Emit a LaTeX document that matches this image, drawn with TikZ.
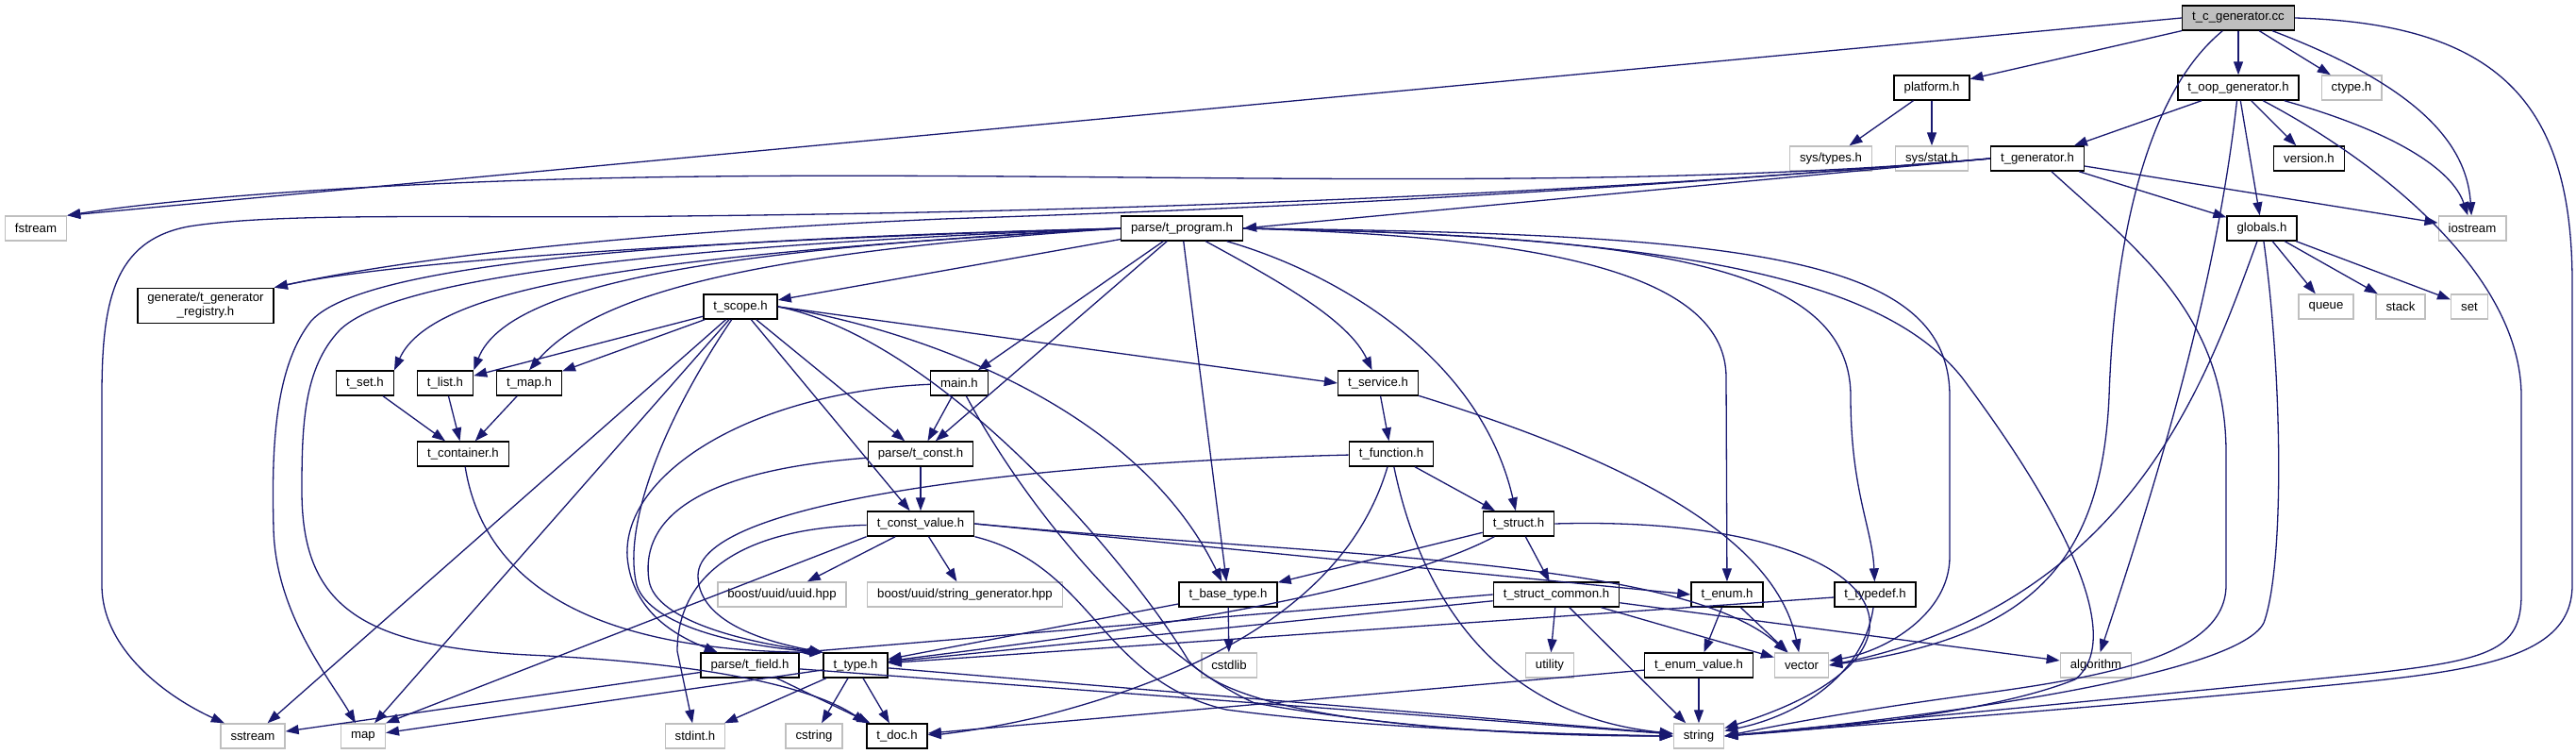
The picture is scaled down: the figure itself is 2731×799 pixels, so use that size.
\documentclass[tikz,border=0pt]{standalone}
\usepackage{fontspec}
\setmainfont{Liberation Sans}
\usetikzlibrary{arrows.meta,positioning}
\definecolor{edgeblue}{RGB}{25,25,112}
\definecolor{sysgray}{RGB}{191,191,191}
\newcommand{\hfont}{\fontsize{13.2pt}{15pt}\selectfont}

\begin{document}
\begin{tikzpicture}[x=1pt,y=-1pt,
  hdr/.style={draw=black,fill=white,line width=1.4pt,inner xsep=10.5pt,inner ysep=0pt,minimum height=26pt,font=\hfont},
  syshdr/.style={hdr,draw=sysgray},
  roothdr/.style={hdr,fill=sysgray},
  dep/.style={draw=edgeblue,line width=1.3pt,-{Triangle[length=14pt,width=10pt]}}]
\useasboundingbox (0,0) rectangle (2731,799);

\node[roothdr] (cc) at (2373,19) {t\_c\_generator.cc};
\node[hdr] (platform) at (2048,93) {platform.h};
\node[hdr] (oop) at (2373,93) {t\_oop\_generator.h};
\node[syshdr] (ctype) at (2493,93) {ctype.h};
\node[syshdr] (systypes) at (1941,168) {sys/types.h};
\node[syshdr] (sysstat) at (2048,168) {sys/stat.h};
\node[hdr] (generator) at (2160,168) {t\_generator.h};
\node[hdr] (version) at (2448,168) {version.h};
\node[syshdr] (fstream) at (38,242) {fstream};
\node[hdr] (program) at (1253,242) {parse/t\_program.h};
\node[hdr] (globals) at (2398,242) {globals.h};
\node[syshdr] (iostream) at (2621,242) {iostream};
\node[hdr,align=center,inner ysep=5pt] (registry) at (218,324) {generate/t\_generator\\\_registry.h};
\node[hdr] (scope) at (785,325) {t\_scope.h};
\node[syshdr] (queue) at (2466,325) {queue};
\node[syshdr] (stack) at (2545,325) {stack};
\node[syshdr] (stlset) at (2618,325) {set};
\node[hdr] (tset) at (387,406) {t\_set.h};
\node[hdr] (tlist) at (472,406) {t\_list.h};
\node[hdr] (tmap) at (561,406) {t\_map.h};
\node[hdr] (mainh) at (1017,406) {main.h};
\node[hdr] (service) at (1461,406) {t\_service.h};
\node[hdr] (container) at (491,481) {t\_container.h};
\node[hdr] (tconst) at (976,481) {parse/t\_const.h};
\node[hdr] (function) at (1475,481) {t\_function.h};
\node[hdr] (constvalue) at (976,555) {t\_const\_value.h};
\node[hdr] (tstruct) at (1610,555) {t\_struct.h};
\node[syshdr] (uuid) at (829,630) {boost/uuid/uuid.hpp};
\node[syshdr] (strgen) at (1023,630) {boost/uuid/string\_generator.hpp};
\node[hdr] (basetype) at (1302,630) {t\_base\_type.h};
\node[hdr] (structcommon) at (1650,630) {t\_struct\_common.h};
\node[hdr] (tenum) at (1831,630) {t\_enum.h};
\node[hdr] (typedef) at (1988,630) {t\_typedef.h};
\node[hdr] (field) at (795,705) {parse/t\_field.h};
\node[hdr] (ttype) at (907,705) {t\_type.h};
\node[syshdr] (cstdlib) at (1303,705) {cstdlib};
\node[syshdr] (utility) at (1643,705) {utility};
\node[hdr] (enumvalue) at (1801,705) {t\_enum\_value.h};
\node[syshdr] (vector) at (1910,705) {vector};
\node[syshdr] (algorithm) at (2222,705) {algorithm};
\node[syshdr] (sstream) at (268,780) {sstream};
\node[syshdr] (stlmap) at (385,780) {map};
\node[syshdr] (stdint) at (737,780) {stdint.h};
\node[syshdr] (cstring) at (863,780) {cstring};
\node[hdr] (tdoc) at (951,780) {t\_doc.h};
\node[syshdr] (string) at (1801,780) {string};

\draw[dep] (cc) -- (platform);
\draw[dep] (cc) -- (oop);
\draw[dep] (cc) -- (ctype);
\draw[dep] (cc.west) -- (fstream.north east);
\draw[dep] (cc) .. controls (2560,90) and (2615,150) .. (iostream);
\draw[dep] (cc) .. controls (2262,110) and (2240,300) .. (2236,420) .. controls (2228,600) and (2150,675) .. (vector.east);
\draw[dep] (cc.east) .. controls (2650,25) and (2727,110) .. (2727,300) -- (2727,620) .. controls (2727,700) and (2620,712) .. (2450,728) .. controls (2200,752) and (1950,770) .. (string.east);

\draw[dep] (platform) -- (systypes);
\draw[dep] (platform) -- (sysstat);

\draw[dep] (oop) -- (generator);
\draw[dep] (oop) -- (globals);
\draw[dep] (oop) -- (version);
\draw[dep] (oop) .. controls (2540,140) and (2600,180) .. (iostream);
\draw[dep] (oop) .. controls (2350,300) and (2290,500) .. (algorithm);
\draw[dep] (oop) .. controls (2520,170) and (2673,290) .. (2673,420) -- (2673,630) .. controls (2673,690) and (2640,700) .. (2500,715) .. controls (2200,745) and (1950,768) .. (string.east);

\draw[dep] (generator.west) -- (program.east);
\draw[dep] (generator) -- (globals);
\draw[dep] (generator) -- (iostream);
\draw[dep] (generator.west) .. controls (1700,205) and (1200,182) .. (750,187) .. controls (450,190) and (200,208) .. (fstream.north east);
\draw[dep] (generator.west) .. controls (1600,212) and (1100,225) .. (720,229) .. controls (500,232) and (300,224) .. (200,240) .. controls (120,255) and (108,320) .. (108,420) -- (108,620) .. controls (108,690) and (180,740) .. (sstream);
\draw[dep] (generator.west) .. controls (1600,210) and (1300,222) .. (1000,232) .. controls (700,245) and (450,270) .. (registry.north east);
\draw[dep] (generator) .. controls (2260,260) and (2360,330) .. (2360,480) -- (2360,620) .. controls (2360,690) and (2250,715) .. (2100,735) .. controls (1950,755) and (1880,770) .. (string.east);

\draw[dep] (globals) -- (queue);
\draw[dep] (globals) -- (stack);
\draw[dep] (globals) -- (stlset);
\draw[dep] (globals) .. controls (2340,400) and (2260,640) .. (vector.east);
\draw[dep] (globals) .. controls (2420,400) and (2422,600) .. (2400,660) .. controls (2370,720) and (2000,765) .. (string.east);

\draw[dep] (program) -- (scope);
\draw[dep] (program) -- (mainh);
\draw[dep] (program) -- (tconst);
\draw[dep] (program) -- (basetype);
\draw[dep] (program) .. controls (1360,300) and (1430,340) .. (service);
\draw[dep] (program) .. controls (1420,290) and (1570,380) .. (tstruct);
\draw[dep] (program.east) .. controls (1600,250) and (1830,280) .. (1830,400) -- (tenum);
\draw[dep] (program.east) .. controls (1750,250) and (1962,280) .. (1962,420) .. controls (1962,520) and (1985,560) .. (typedef);
\draw[dep] (program.east) .. controls (1850,248) and (2067,270) .. (2067,420) -- (2067,590) .. controls (2067,650) and (2000,690) .. (vector);
\draw[dep] (program.east) .. controls (1800,250) and (2000,300) .. (2080,400) .. controls (2200,560) and (2250,680) .. (2200,720) .. controls (2100,760) and (1900,775) .. (string.east);
\draw[dep] (program.west) .. controls (900,250) and (450,270) .. (registry.north east);
\draw[dep] (program.west) .. controls (700,270) and (460,300) .. (tset.north east);
\draw[dep] (program.west) .. controls (800,262) and (540,295) .. (tlist.north east);
\draw[dep] (program.west) .. controls (850,265) and (640,300) .. (tmap.north);
\draw[dep] (program.west) .. controls (650,255) and (380,285) .. (330,340) .. controls (290,390) and (288,480) .. (290,560) .. controls (292,650) and (350,720) .. (stlmap);
\draw[dep] (program.west) .. controls (650,262) and (410,300) .. (360,350) .. controls (322,390) and (320,450) .. (320,520) .. controls (320,640) and (380,685) .. (560,694) .. controls (800,705) and (880,740) .. (tdoc.north west);

\draw[dep] (scope) -- (tlist);
\draw[dep] (scope) -- (tmap);
\draw[dep] (scope) -- (sstream);
\draw[dep] (scope) -- (stlmap);
\draw[dep] (scope) .. controls (700,450) and (660,560) .. (675,620) .. controls (690,665) and (790,685) .. (ttype.north west);
\draw[dep] (scope) -- (tconst);
\draw[dep] (scope) -- (constvalue);
\draw[dep] (scope.east) -- (service.west);
\draw[dep] (scope.east) .. controls (950,345) and (1200,420) .. (basetype);
\draw[dep] (scope.east) .. controls (1000,360) and (1200,600) .. (1260,700) .. controls (1320,770) and (1600,778) .. (string.west);

\draw[dep] (mainh) -- (tconst);
\draw[dep] (mainh) .. controls (800,415) and (660,500) .. (665,590) .. controls (670,650) and (720,675) .. (field);
\draw[dep] (mainh) .. controls (1100,560) and (1230,700) .. (1330,745) .. controls (1500,775) and (1650,780) .. (string.west);

\draw[dep] (tconst) -- (constvalue);
\draw[dep] (tconst) .. controls (720,500) and (680,560) .. (688,615) .. controls (695,660) and (800,682) .. (ttype.north west);

\draw[dep] (constvalue) -- (uuid);
\draw[dep] (constvalue) -- (strgen);
\draw[dep] (constvalue) .. controls (770,560) and (718,620) .. (718,690) -- (stdint);
\draw[dep] (constvalue.south west) -- (stlmap.north east);
\draw[dep] (constvalue.east) -- (tenum.west);
\draw[dep] (constvalue.east) .. controls (1400,590) and (1780,590) .. (vector);
\draw[dep] (constvalue.south east) .. controls (1160,600) and (1165,720) .. (1300,752) .. controls (1450,772) and (1650,778) .. (string.west);

\draw[dep] (service) -- (function);
\draw[dep] (service) .. controls (1700,480) and (1880,560) .. (vector);

\draw[dep] (function) -- (tstruct);
\draw[dep] (function) .. controls (1100,490) and (740,530) .. (740,610) .. controls (740,655) and (800,678) .. (ttype.north west);
\draw[dep] (function) .. controls (1440,600) and (1340,700) .. (1100,760) .. controls (1050,772) and (1000,778) .. (tdoc);
\draw[dep] (function) .. controls (1510,650) and (1600,760) .. (string);

\draw[dep] (tstruct) -- (basetype);
\draw[dep] (tstruct) .. controls (1450,640) and (1100,680) .. (ttype);
\draw[dep] (tstruct) -- (structcommon);
\draw[dep] (tstruct.east) .. controls (2000,545) and (2090,690) .. (string);

\draw[dep] (basetype) -- (ttype);
\draw[dep] (basetype) -- (cstdlib);

\draw[dep] (structcommon.west) -- (field.north east);
\draw[dep] (structcommon) -- (ttype);
\draw[dep] (structcommon) -- (utility);
\draw[dep] (structcommon) -- (string);
\draw[dep] (structcommon) -- (vector);
\draw[dep] (structcommon) -- (algorithm);

\draw[dep] (tenum) -- (enumvalue);
\draw[dep] (tenum) -- (vector);
\draw[dep] (enumvalue) -- (string);
\draw[dep] (enumvalue) -- (tdoc);
\draw[dep] (typedef) -- (ttype);
\draw[dep] (typedef) .. controls (1975,720) and (1900,760) .. (string);

\draw[dep] (tset) -- (container);
\draw[dep] (tlist) -- (container);
\draw[dep] (tmap) -- (container);
\draw[dep] (container) .. controls (510,600) and (600,690) .. (ttype.north west);

\draw[dep] (field) -- (sstream);
\draw[dep] (field) -- (tdoc);
\draw[dep] (field) -- (string);

\draw[dep] (ttype) -- (tdoc);
\draw[dep] (ttype) -- (cstring);
\draw[dep] (ttype) -- (stdint);
\draw[dep] (ttype) -- (stlmap);
\draw[dep] (ttype) -- (string);
\end{tikzpicture}
\end{document}
